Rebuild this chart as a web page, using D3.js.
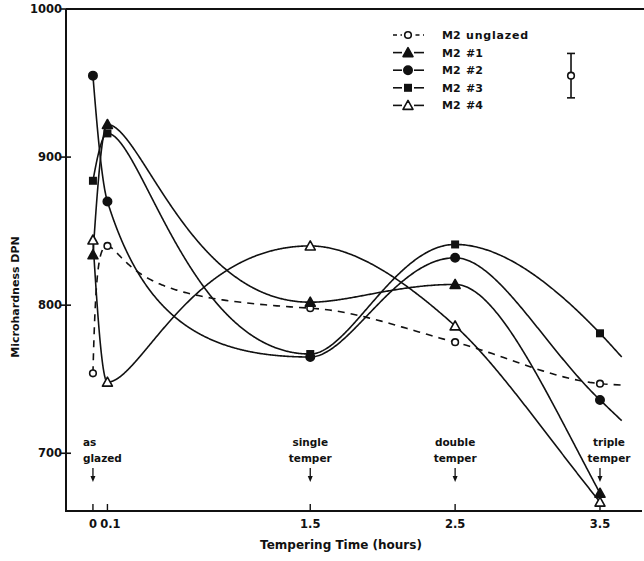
<!DOCTYPE html>
<html>

<head>
  <title>Microhardness</title>
  <script src="https://cdn.jsdelivr.net/npm/d3@7"></script>
  <style>
    body { margin: 0; background: #fff; }
    text { font-family: 'DejaVu Sans', sans-serif; font-weight: bold; fill: #111; }
  </style>
</head>

<body>
  <svg width="644" height="561" id="mainsvg"></svg>
  <script>
    // tempering times (hours) and hardness readings for each sample
    const times = [0, 0.1, 1.5, 2.5, 3.5];
    const unglazed = [754, 840, 798, 775, 747];
    const m2n1 = [834, 922, 802, 814, 673];
    const m2n2 = [955, 870, 765, 832, 736];
    const m2n3 = [884, 916, 767, 841, 781];
    const m2n4 = [844, 748, 840, 786, 667];
    // where the drawn lines run on past the last reading
    const tailTime = 3.65;
    const tails = [746, null, 722, 765, null];

    const seriesNames = ['M2  unglazed', 'M2  #1', 'M2  #2', 'M2  #3', 'M2  #4'];
    const markers = ['openCircle', 'fillTriangle', 'fillCircle', 'fillSquare', 'openTriangle'];
    const seriesValues = [unglazed, m2n1, m2n2, m2n3, m2n4];

    const yTicks = [700, 800, 900, 1000];
    const xTicks = [0, 0.1, 1.5, 2.5, 3.5];
    const xTickLabels = ['0', '0.1', '1.5', '2.5', '3.5'];
    const notes = [
      { t: 0, lines: ['as', 'glazed'] },
      { t: 1.5, lines: ['single', 'temper'] },
      { t: 2.5, lines: ['double', 'temper'] },
      { t: 3.5, lines: ['triple', 'temper'] }
    ];
    // typical scatter shown top right
    const errBar = { t: 3.3, mid: 955, lo: 940, hi: 970 };

    const svg = d3.select('#mainsvg');
    const x = d3.scaleLinear().domain([-0.186, 3.79]).range([66, 642]);
    const y = d3.scaleLinear().domain([661, 1000]).range([511, 9]);

    // the hand-drawn curves change fast just after glazing, so the spline
    // is fitted on a stretched time axis and then mapped back onto x
    const logWarp = { f: t => Math.log(t + 0.4), inv: u => Math.exp(u) - 0.4 };
    // steeper stretch before the first temper, plain (slope matched) after it
    const sc = 0.05, st = 1.5, su = -1 / (st + sc), sk = (st + sc) * (st + sc);
    const steepWarp = {
      f: t => t <= st ? -1 / (t + sc) : su + (t - st) / sk,
      inv: u => u <= su ? -1 / u - sc : st + (u - su) * sk
    };
    const warps = [steepWarp, logWarp, logWarp, logWarp, logWarp];

    const plain = d3.line();
    const scratch = svg.append('path').attr('visibility', 'hidden');
    const curvePath = (pts, w) => {
      const xu = d3.scaleLinear().domain([w.f(0), w.f(tailTime)]).range([0, 1000]);
      const warped = d3.line()
        .x(d => xu(w.f(d[0])))
        .y(d => y(d[1]))
        .curve(d3.curveMonotoneX);
      scratch.attr('d', warped(pts));
      const node = scratch.node();
      const len = node.getTotalLength();
      const out = [];
      for (let k = 0; k <= 800; k++) {
        const p = node.getPointAtLength(len * k / 800);
        out.push([x(w.inv(xu.invert(p.x))), p.y]);
      }
      return plain(out);
    };

    const drawMarker = (sel, type, cx, cy) => {
      if (type === 'openCircle' || type === 'fillCircle') {
        sel.append('circle')
          .attr('cx', cx).attr('cy', cy)
          .attr('r', type === 'fillCircle' ? 4.2 : 3.3)
          .attr('fill', type === 'fillCircle' ? '#111' : '#fff')
          .attr('stroke', '#111').attr('stroke-width', 1.6);
      } else if (type === 'fillSquare') {
        sel.append('rect')
          .attr('x', cx - 4).attr('y', cy - 4)
          .attr('width', 8).attr('height', 8)
          .attr('fill', '#111');
      } else {
        const s = 5;
        sel.append('path')
          .attr('d', `M${cx},${cy - s}L${cx + s},${cy + s * 0.8}L${cx - s},${cy + s * 0.8}Z`)
          .attr('fill', type === 'fillTriangle' ? '#111' : '#fff')
          .attr('stroke', '#111').attr('stroke-width', 1.6)
          .attr('stroke-linejoin', 'round');
      }
    };

    // frame: left axis, bottom axis, top rule
    svg.append('line')
      .attr('x1', x.range()[0]).attr('x2', x.range()[0])
      .attr('y1', y(1000)).attr('y2', y.range()[0] + 1)
      .attr('stroke', '#111').attr('stroke-width', 2);
    svg.append('line')
      .attr('x1', x.range()[0]).attr('x2', x.range()[1])
      .attr('y1', y.range()[0]).attr('y2', y.range()[0])
      .attr('stroke', '#111').attr('stroke-width', 2);
    svg.append('line')
      .attr('x1', x.range()[0]).attr('x2', 644)
      .attr('y1', y(1000)).attr('y2', y(1000))
      .attr('stroke', '#111').attr('stroke-width', 2.2);

    // y ticks
    const yg = svg.append('g');
    yg.selectAll('line').data(yTicks).join('line')
      .attr('x1', 61).attr('x2', 71)
      .attr('y1', d => y(d)).attr('y2', d => y(d))
      .attr('stroke', '#111').attr('stroke-width', 1.6);
    yg.selectAll('text').data(yTicks).join('text')
      .attr('x', 62).attr('y', d => y(d) + 4)
      .attr('text-anchor', 'end')
      .attr('font-size', 11.5)
      .text(d => d);

    // x ticks
    const xg = svg.append('g');
    xg.selectAll('line').data(xTicks).join('line')
      .attr('x1', d => x(d)).attr('x2', d => x(d))
      .attr('y1', y.range()[0] - 7).attr('y2', y.range()[0])
      .attr('stroke', '#111').attr('stroke-width', 1.4);
    xg.selectAll('text').data(xTicks).join('text')
      .attr('x', (d, i) => x(d) + (i === 1 ? 3 : 0))
      .attr('y', 528)
      .attr('text-anchor', 'middle')
      .attr('font-size', 11.5)
      .text((d, i) => xTickLabels[i]);

    // axis titles
    svg.append('text')
      .attr('x', 341).attr('y', 549)
      .attr('text-anchor', 'middle')
      .attr('font-size', 12)
      .text('Tempering Time (hours)');
    svg.append('text')
      .attr('transform', 'translate(19, 297) rotate(-90)')
      .attr('text-anchor', 'middle')
      .attr('font-size', 11)
      .text('Microhardness DPN');

    // tempering annotations with arrows
    const ng = svg.append('g');
    notes.forEach(n => {
      const cx = x(n.t);
      n.lines.forEach((s, i) => {
        ng.append('text')
          .attr('x', n.t === 0 ? cx - 10 : (n.t === 3.5 ? cx + 9 : cx))
          .attr('y', 446 + i * 16)
          .attr('text-anchor', n.t === 0 ? 'start' : 'middle')
          .attr('font-size', 10.5)
          .text(s);
      });
      ng.append('line')
        .attr('x1', cx).attr('x2', cx)
        .attr('y1', 468).attr('y2', 478)
        .attr('stroke', '#111').attr('stroke-width', 1.3);
      ng.append('path')
        .attr('d', `M${cx - 2.5},${476}L${cx + 2.5},${476}L${cx},${482}Z`)
        .attr('fill', '#111');
    });

    // curves
    const cg = svg.append('g');
    seriesValues.forEach((vals, i) => {
      const pts = times.map((t, j) => [t, vals[j]]);
      if (tails[i] !== null) pts.push([tailTime, tails[i]]);
      cg.append('path')
        .attr('d', curvePath(pts, warps[i]))
        .attr('fill', 'none')
        .attr('stroke', '#111')
        .attr('stroke-width', 1.6)
        .attr('stroke-linejoin', 'round')
        .attr('stroke-dasharray', i === 0 ? '7,6' : null);
    });
    scratch.remove();

    // markers
    const mg = svg.append('g');
    seriesValues.forEach((vals, i) => {
      times.forEach((t, j) => drawMarker(mg, markers[i], x(t), y(vals[j])));
    });

    // legend
    const lg = svg.append('g');
    seriesNames.forEach((name, i) => {
      const ly = 35 + i * 17.6;
      lg.append('line')
        .attr('x1', 393).attr('x2', 424)
        .attr('y1', ly).attr('y2', ly)
        .attr('stroke', '#111').attr('stroke-width', 1.6)
        .attr('stroke-dasharray', i === 0 ? '4,3.5' : null);
      lg.append('rect')
        .attr('x', 402).attr('y', ly - 5).attr('width', 12).attr('height', 10)
        .attr('fill', '#fff');
      drawMarker(lg, markers[i], 408, ly);
      const parts = name.split('  ');
      lg.append('text').attr('x', 442).attr('y', ly + 4).attr('font-size', 11).text(parts[0]);
      lg.append('text').attr('x', 466).attr('y', ly + 4).attr('font-size', 11)
        .attr('letter-spacing', i === 0 ? 0.8 : 0).text(parts[1]);
    });

    // error bar
    const ex = x(errBar.t);
    svg.append('line')
      .attr('x1', ex).attr('x2', ex)
      .attr('y1', y(errBar.hi)).attr('y2', y(errBar.lo))
      .attr('stroke', '#111').attr('stroke-width', 1.6);
    [errBar.hi, errBar.lo].forEach(v => {
      svg.append('line')
        .attr('x1', ex - 4).attr('x2', ex + 4)
        .attr('y1', y(v)).attr('y2', y(v))
        .attr('stroke', '#111').attr('stroke-width', 1.6);
    });
    drawMarker(svg, 'openCircle', ex, y(errBar.mid));
  </script>
</body>

</html>
